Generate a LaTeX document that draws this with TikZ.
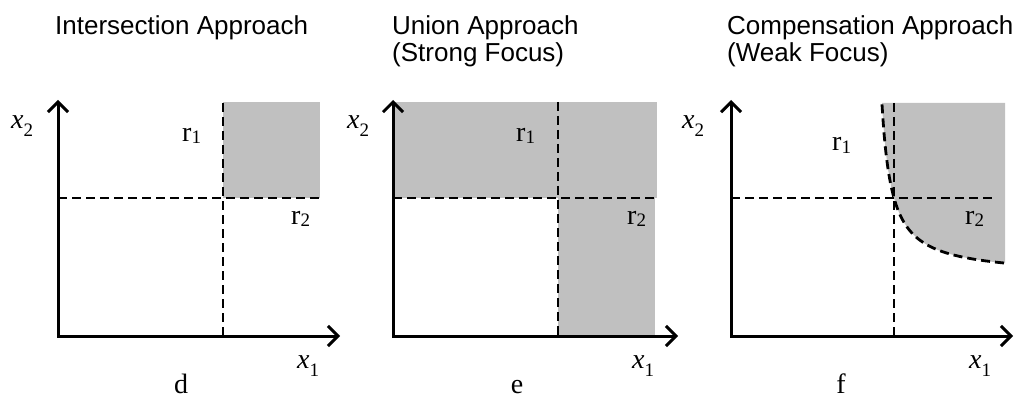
\documentclass[tikz,border=0pt]{standalone}
\usepackage{fontspec}
\setmainfont{Liberation Serif}
\newfontfamily\titlefont{Liberation Sans}
\usetikzlibrary{arrows.meta}
\definecolor{shadegray}{RGB}{192,192,192}
\newcommand{\varx}[1]{\textit{x}\raisebox{-8pt}{\fontsize{19}{19}\selectfont #1}}
\newcommand{\regr}[1]{r\raisebox{-2pt}{\fontsize{19}{19}\selectfont #1}}
\begin{document}
\begin{tikzpicture}[x=1pt,y=-1pt,
  axis/.style={line width=3pt, line join=miter,
    {Straight Barb[length=10pt,width=20pt]}-{Straight Barb[length=10pt,width=20pt]}},
  dline/.style={line width=2.8pt, dash pattern=on 9pt off 5pt},
  title/.style={font=\titlefont\fontsize{26}{26}\selectfont, inner sep=0pt, anchor=base west},
  lab/.style={font=\fontsize{28}{28}\selectfont, inner sep=0pt, anchor=base west},
  panelcap/.style={font=\fontsize{28}{28}\selectfont, inner sep=0pt, anchor=base}]
\useasboundingbox (0,0) rectangle (1019,398);

% ---------- titles ----------
\node[title] (t1) at (55,35) {Intersection Approach};
\node[title] (t2a) at (392,35) {Union Approach};
\node[title] (t2b) at (392,61.5) {(Strong Focus)};
\node[title] (t3a) at (727,35) {Compensation Approach};
\node[title] (t3b) at (727,61.5) {(Weak Focus)};

% ---------- panel d ----------
\fill[shadegray] (223,102) rectangle (320,198);
\coordinate (dTop) at (58,100);
\coordinate (dO) at (58,336);
\coordinate (dRight) at (340,336);
\coordinate (dV1) at (223,103);
\coordinate (dV2) at (223,336);
\coordinate (dH1) at (58,198);
\coordinate (dH2) at (322,198);
\draw[dline] (dV1) -- (dV2);
\draw[dline] (dH1) -- (dH2);
\draw[axis] (dTop) -- (dO) -- (dRight);
\node[lab] (dx2) at (11,129) {\varx{2}};
\node[lab] (dx1) at (297,368) {\varx{1}};
\node[lab] (dr1) at (182,142) {\regr{1}};
\node[lab] (dr2) at (291,224) {\regr{2}};
\node[panelcap] (dcap) at (181,393) {d};

% ---------- panel e ----------
\fill[shadegray] (393,102) rectangle (657,198);
\fill[shadegray] (558,198) rectangle (655,336);
\coordinate (eTop) at (393,100);
\coordinate (eO) at (393,336);
\coordinate (eRight) at (678,336);
\coordinate (eV1) at (558,102);
\coordinate (eV2) at (558,336);
\coordinate (eH1) at (393,198);
\coordinate (eH2) at (657,198);
\draw[dline] (eV1) -- (eV2);
\draw[dline] (eH1) -- (eH2);
\draw[axis] (eTop) -- (eO) -- (eRight);
\node[lab] (ex2) at (347,129) {\varx{2}};
\node[lab] (ex1) at (632,368) {\varx{1}};
\node[lab] (er1) at (516,142) {\regr{1}};
\node[lab] (er2) at (627,224) {\regr{2}};
\node[panelcap] (ecap) at (517,393) {e};

% ---------- panel f ----------
\fill[shadegray] (882,103)
  -- plot[domain=-12:111,samples=80,smooth] ({894+\x},{198-(1716/(\x+22)-78)})
  -- (1005,257) -- (1005,103) -- cycle;
\coordinate (fTop) at (731,100);
\coordinate (fO) at (731,336);
\coordinate (fRight) at (1013,336);
\coordinate (fV1) at (894,103);
\coordinate (fV2) at (894,336);
\coordinate (fH1) at (731,198);
\coordinate (fH2) at (995,198);
\draw[dline] (fV1) -- (fV2);
\draw[dline] (fH1) -- (fH2);
\draw[dline] plot[domain=-12:111,samples=80,smooth] ({894+\x},{198-(1716/(\x+22)-78)});
\draw[axis] (fTop) -- (fO) -- (fRight);
\node[lab] (fx2) at (682,129) {\varx{2}};
\node[lab] (fx1) at (969,368) {\varx{1}};
\node[lab] (fr1) at (832,151) {\regr{1}};
\node[lab] (fr2) at (965,224) {\regr{2}};
\node[panelcap] (fcap) at (841,393) {f};
\end{tikzpicture}
\end{document}
